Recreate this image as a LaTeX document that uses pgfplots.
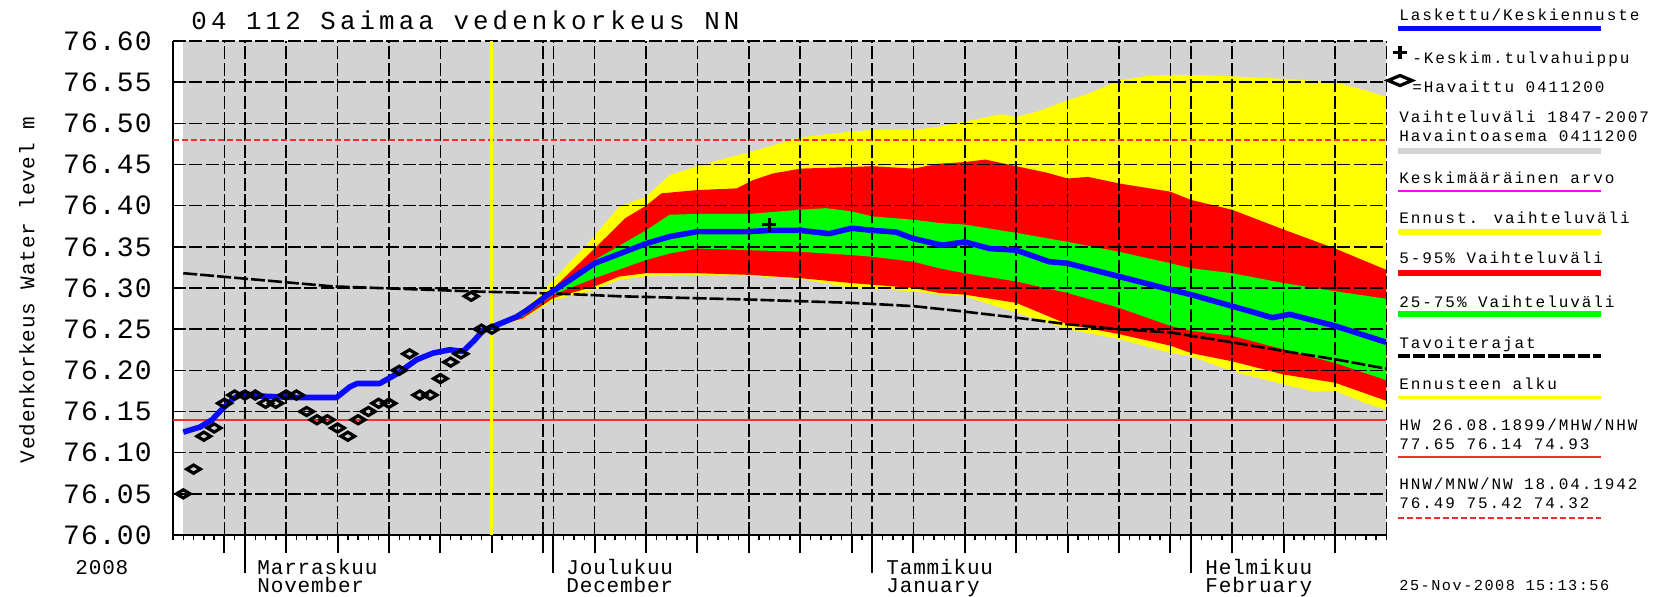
\documentclass[border=0pt]{standalone}
\usepackage{pgfplots}
\pgfplotsset{compat=1.18}
\usepackage{fontspec}
\newfontfamily\fTickF[LetterSpace=4]{Liberation Mono}
\newfontfamily\fTitleF[LetterSpace=16]{Liberation Mono}
\newfontfamily\fMonF[LetterSpace=4]{Liberation Mono}
\newfontfamily\fLegF[LetterSpace=12]{Liberation Mono}
\newfontfamily\fStampF[LetterSpace=10]{Liberation Mono}
\newcommand\fTick{\fTickF\fontsize{14pt}{15pt}\selectfont}
\newcommand\fTitle{\fTitleF\fontsize{12.9pt}{14pt}\selectfont}
\newcommand\fMon{\fMonF\fontsize{10.5pt}{12pt}\selectfont}
\newcommand\fLeg{\fLegF\fontsize{8pt}{9pt}\selectfont}
\newcommand\fStamp{\fStampF\fontsize{7.6pt}{9pt}\selectfont}

\definecolor{bgray}{RGB}{211,211,211}
\definecolor{fyellow}{RGB}{255,255,0}
\definecolor{fred}{RGB}{255,0,0}
\definecolor{fgreen}{RGB}{0,255,0}
\definecolor{lblue}{RGB}{10,10,255}
\definecolor{lred}{RGB}{245,45,45}
\definecolor{lmag}{RGB}{255,0,255}

% flat diamond used for the observed levels
\pgfdeclareplotmark{flatdiamond}{%
  \pgfpathmoveto{\pgfqpoint{-\pgfplotmarksize}{0pt}}%
  \pgfpathlineto{\pgfqpoint{0pt}{0.6\pgfplotmarksize}}%
  \pgfpathlineto{\pgfqpoint{\pgfplotmarksize}{0pt}}%
  \pgfpathlineto{\pgfqpoint{0pt}{-0.6\pgfplotmarksize}}%
  \pgfpathclose\pgfusepathqstroke}

\begin{document}
\begin{tikzpicture}
\begin{axis}[
  at={(86.5pt,-267.5pt)}, anchor=south west,
  scale only axis, width=606.7pt, height=247pt,
  xmin=0, xmax=118, ymin=76, ymax=76.6,
  set layers, clip mode=individual,
  axis x line=bottom, axis y line=left,
  axis line style={-, line width=0.8pt, black},
  xtick={5,11,16,21,26,31,36,41,46,51,56,61,66,72,77,82,87,92,97,103,108,113},
  xticklabels={},
  extra x ticks={7,37,68,99},
  extra x tick labels={},
  extra x tick style={major tick length=19pt, grid=major},
  minor xtick={0,1,...,118},
  tick align=outside,
  major tick length=9pt, minor tick length=2.5pt,
  every major tick/.append style={line width=1pt, black},
  every minor tick/.append style={line width=0.7pt, black},
  ytick={76.00,76.05,76.10,76.15,76.20,76.25,76.30,76.35,76.40,76.45,76.50,76.55,76.60},
  yticklabels={},
  ytick style={draw=none},
  grid=major,
  grid style={black, line width=0.8pt, dash pattern=on 6.5pt off 1.7pt},
]
% Vaihteluvali 1847-2007 (historical range, covers whole view)
\addplot[on layer=axis background, fill=bgray, draw=none] coordinates {
  (1,76) (1,76.6) (118,76.6) (118,76)};
% Ennust. vaihteluvali
\addplot[on layer=axis background, fill=fyellow, draw=none] coordinates {
  (31,76.253) (33,76.266) (34.5,76.278) (37,76.31) (38.5,76.33) (40.2,76.352)
  (43.4,76.399) (46,76.411) (48.3,76.437) (51,76.448) (53,76.455) (56,76.465)
  (58.3,76.473) (61,76.483) (66,76.49) (68,76.492) (72,76.492) (74.5,76.496)
  (77,76.502) (80.5,76.511) (82,76.508) (84,76.514) (87,76.528) (89,76.536)
  (92,76.552) (95,76.558) (97,76.559) (99,76.559) (103,76.557) (108,76.554)
  (113,76.55) (116,76.54) (118,76.532)
  (118,76.152) (116,76.16) (113,76.175) (111,76.174) (108,76.183) (103,76.199)
  (99,76.217) (97,76.221) (92,76.238) (87,76.25) (82,76.27) (77,76.29)
  (74.5,76.292) (72,76.296) (66,76.30) (61,76.311) (56,76.315) (51,76.316)
  (46,76.314) (43.4,76.31) (41,76.298) (37,76.285) (34,76.262) (31,76.253)};
% 5-95 %
\addplot[on layer=axis background, fill=fred, draw=none] coordinates {
  (31,76.253) (34,76.270) (37,76.300) (41,76.348) (44,76.385) (46,76.400)
  (47.5,76.415) (51,76.419) (54.8,76.421) (56.4,76.431) (58.3,76.439) (61,76.445)
  (66,76.447) (68,76.448) (72,76.445) (74.5,76.451) (77,76.453) (79,76.456)
  (82,76.448) (85,76.44) (87,76.433) (89,76.435) (92,76.427) (97,76.417)
  (99,76.407) (103,76.395) (108,76.371) (113,76.348) (118,76.322)
  (118,76.163) (113,76.185) (108,76.195) (103,76.211) (99,76.221) (97,76.23)
  (92,76.244) (87,76.256) (82,76.282) (77,76.292) (74.5,76.294) (72,76.300)
  (68,76.304) (66,76.306) (61,76.312) (56,76.316) (51,76.318) (46,76.318)
  (43.4,76.314) (41,76.302) (37,76.288) (34,76.263) (31,76.253)};
% 25-75 %
\addplot[on layer=axis background, fill=fgreen, draw=none] coordinates {
  (31,76.253) (34,76.27) (37,76.296) (41,76.334) (46,76.37) (48.3,76.389)
  (51,76.39) (56,76.39) (61,76.395) (63.5,76.397) (66,76.393) (68,76.387)
  (72,76.383) (74.5,76.379) (77,76.377) (82,76.367) (87,76.356) (92,76.344)
  (97,76.330) (99,76.324) (103,76.318) (108,76.306) (113,76.296) (118,76.287)
  (118,76.188) (113,76.209) (108,76.2255) (103,76.242) (99,76.248) (97,76.254)
  (92,76.276) (87,76.294) (82,76.308) (77,76.318) (74.5,76.324) (72,76.332)
  (68,76.338) (66,76.34) (61,76.344) (56,76.346) (51,76.348) (48.3,76.342)
  (46,76.334) (41,76.312) (37,76.292) (34,76.265) (31,76.253)};

% MHW 76.14 and HNW 76.48
\addplot[lred, line width=0.9pt] coordinates {(0,76.14) (118,76.14)};
\addplot[lred, line width=0.8pt, dash pattern=on 3pt off 1.5pt] coordinates {(0,76.48) (118,76.48)};
% Ennusteen alku
\addplot[fyellow, line width=1.7pt] coordinates {(31,76) (31,76.6)};
% Tavoiterajat
\addplot[black, line width=1.3pt, dash pattern=on 7pt off 1.5pt] coordinates {
  (1,76.318) (15.5,76.302) (30.1,76.2955) (36.6,76.2936) (43.4,76.29) (56,76.286)
  (66,76.282) (72,76.278) (76.5,76.272) (82,76.264) (87,76.256) (92,76.25)
  (97,76.246) (103,76.234) (108,76.2235) (113,76.2135) (118,76.202)};
% Laskettu / Keskiennuste
\addplot[lblue, line width=2.8pt, line join=round] coordinates {
  (1,76.125) (2.6,76.131) (3.8,76.14) (4.7,76.152) (5.9,76.166) (6.8,76.172)
  (8,76.169) (10,76.168) (12,76.167) (14,76.167) (15.9,76.167) (17.2,76.18)
  (17.9,76.184) (20.1,76.184) (21.8,76.196) (23.7,76.213) (25.3,76.221)
  (26.9,76.225) (28.2,76.223) (29.2,76.235) (30.2,76.249) (31.1,76.253)
  (33.4,76.265) (34.4,76.273) (36.7,76.294) (41,76.330) (46,76.354)
  (48.3,76.3625) (51,76.3685) (56,76.3685) (58,76.37) (61,76.37) (63.8,76.366)
  (66,76.3726) (68,76.37) (70.3,76.368) (72,76.36) (74.8,76.352) (77,76.356)
  (79.4,76.348) (82,76.346) (85.2,76.332) (87,76.330) (92,76.314) (97,76.298)
  (99,76.292) (103,76.278) (106.9,76.264) (108.6,76.268) (113,76.254) (118,76.234)};
% Havaittu 0411200
\addplot[only marks, mark=flatdiamond, mark size=3.4pt,
  mark options={black, line width=1.6pt}] coordinates {
  (1,76.05) (2,76.08) (3,76.12) (4,76.13) (5,76.16) (6,76.17) (7,76.17)
  (8,76.17) (9,76.16) (10,76.16) (11,76.17) (12,76.17) (13,76.15) (14,76.14)
  (15,76.14) (16,76.13) (17,76.12) (18,76.14) (19,76.15) (20,76.16) (21,76.16)
  (22,76.20) (23,76.22) (24,76.17) (25,76.17) (26,76.19) (27,76.21) (28,76.22)
  (29,76.29) (30,76.25) (31,76.25)};
% Keskim. tulvahuippu
\addplot[only marks, mark=+, mark size=3.5pt, mark options={black, line width=1.6pt}]
  coordinates {(58,76.377)};
% right border
\draw[black, line width=0.8pt, dash pattern=on 6.5pt off 1.7pt] (axis cs:118,76) -- (axis cs:118,76.6);
\end{axis}

\begin{scope}[x=0.5pt, y=-0.5pt]
% y tick labels
\foreach \v/\py in {76.00/535, 76.05/493.83, 76.10/452.67, 76.15/411.5, 76.20/370.33,
  76.25/329.17, 76.30/288, 76.35/246.83, 76.40/205.67, 76.45/164.5, 76.50/123.33,
  76.55/82.17, 76.60/41}
  \node[anchor=east, inner sep=0, font=\fTick] at (152,\py) {\v};
\node[anchor=base west, inner sep=0, font=\fTitle] at (191,29.5) {04 112 Saimaa vedenkorkeus NN};
\node[rotate=90, inner sep=0, font=\fMon] at (27,290) {Vedenkorkeus Water level m};
\node[anchor=base west, inner sep=0, font=\fMon] at (75,574) {2008};
\node[anchor=base west, inner sep=0, font=\fMon] at (257,574) {Marraskuu};
\node[anchor=base west, inner sep=0, font=\fMon] at (257,592) {November};
\node[anchor=base west, inner sep=0, font=\fMon] at (566,574) {Joulukuu};
\node[anchor=base west, inner sep=0, font=\fMon] at (566,592) {December};
\node[anchor=base west, inner sep=0, font=\fMon] at (886,574) {Tammikuu};
\node[anchor=base west, inner sep=0, font=\fMon] at (886,592) {January};
\node[anchor=base west, inner sep=0, font=\fMon] at (1205,574) {Helmikuu};
\node[anchor=base west, inner sep=0, font=\fMon] at (1205,592) {February};

% legend panel
\tikzset{leg/.style={anchor=base west, inner sep=0, font=\fLeg}}
\node[leg] at (1399,20.3) {Laskettu/Keskiennuste};
\draw[lblue, line width=2.8pt] (1398,28.3) -- (1601,28.3);
\draw[black, line width=1.6pt] (1393,52.5) -- (1407,52.5) (1400,46) -- (1400,59);
\node[leg] at (1412,63.3) {-Keskim.tulvahuippu};
\draw[black, line width=1.6pt] (1388,80.5) -- (1400,75.5) -- (1412,80.5) -- (1400,85.5) -- cycle;
\node[leg] at (1412,92.3) {=Havaittu 0411200};
\node[leg] at (1399,122) {Vaihteluväli 1847-2007};
\node[leg] at (1399,141.3) {Havaintoasema 0411200};
\draw[bgray, line width=3pt] (1398,151) -- (1601,151);
\node[leg] at (1399,183) {Keskimääräinen arvo};
\draw[lmag, line width=1pt] (1398,191) -- (1601,191);
\node[leg] at (1399,223.6) {Ennust. vaihteluväli};
\draw[fyellow, line width=3pt] (1398,231.7) -- (1601,231.7);
\node[leg] at (1399,263.6) {5-95\% Vaihteluväli};
\draw[fred, line width=3pt] (1398,272.7) -- (1601,272.7);
\node[leg] at (1399,307) {25-75\% Vaihteluväli};
\draw[fgreen, line width=3pt] (1398,314.3) -- (1601,314.3);
\node[leg] at (1399,348.6) {Tavoiterajat};
\draw[black, line width=2pt, dash pattern=on 6pt off 1.5pt] (1398,355.7) -- (1601,355.7);
\node[leg] at (1399,389.6) {Ennusteen alku};
\draw[fyellow, line width=1.7pt] (1398,397.3) -- (1601,397.3);
\node[leg] at (1399,430.3) {HW 26.08.1899/MHW/NHW};
\node[leg] at (1399,449.3) {77.65 76.14 74.93};
\draw[lred, line width=0.9pt] (1398,456.7) -- (1601,456.7);
\node[leg] at (1399,489.6) {HNW/MNW/NW 18.04.1942};
\node[leg] at (1399,508) {76.49 75.42 74.32};
\draw[lred, line width=0.8pt, dash pattern=on 3pt off 1.5pt] (1398,517.7) -- (1601,517.7);
\node[anchor=base west, inner sep=0, font=\fStamp] at (1399,590.3) {25-Nov-2008 15:13:56};
\end{scope}
\pgfresetboundingbox
\useasboundingbox (0,0) rectangle (834pt,-298pt);
\end{tikzpicture}
\end{document}
